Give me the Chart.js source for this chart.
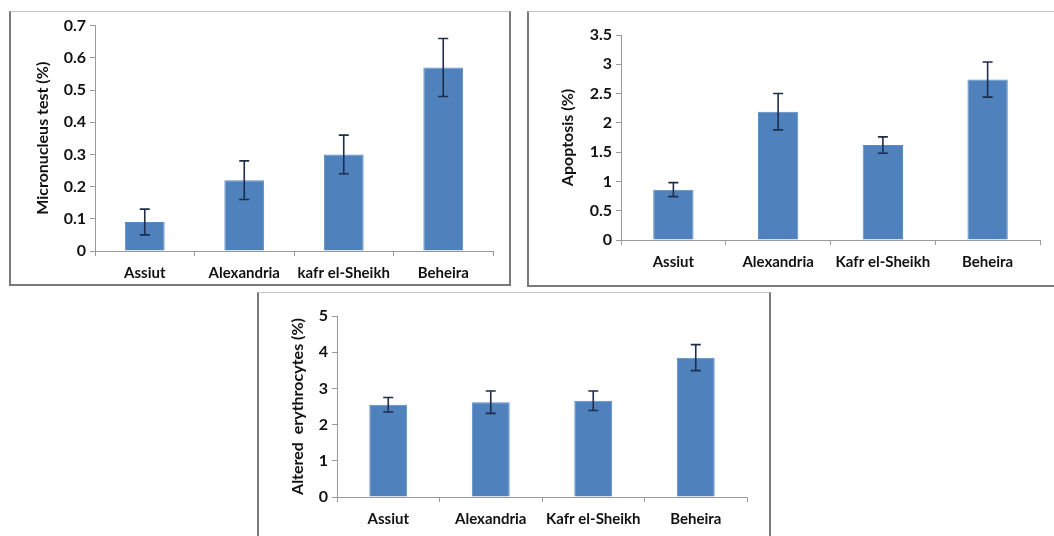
<!DOCTYPE html>
<html>
<head>
<meta charset="utf-8">
<script src="https://cdn.jsdelivr.net/npm/chart.js@4.4.0/dist/chart.umd.min.js"></script>
<style>
    body { margin: 0; background: #fff; width: 1054px; height: 536px; overflow: hidden; position: relative; }
    .box { position: absolute; box-sizing: border-box; border: 2px solid #7a7a7a; border-top: 1px solid #c4c4c4; background: #fff; }
    .box canvas { position: absolute; left: 0; top: 0; }
</style>
</head>
<body>

<div class="box" style="left:9px; top:11px; width:502px; height:275px;">
    <canvas id="chart1" width="498" height="272"></canvas>
</div>
<div class="box" style="left:527px; top:11px; width:540px; height:276px;">
    <canvas id="chart2" width="527" height="273"></canvas>
</div>
<div class="box" style="left:257px; top:292px; width:514px; height:260px;">
    <canvas id="chart3" width="510" height="244"></canvas>
</div>

<script>
    // data (mean and error)
    var micronucleusLabels = ['Assiut', 'Alexandria', 'kafr el-Sheikh', 'Beheira'];
    var micronucleus = [0.09, 0.22, 0.30, 0.57];
    var micronucleusErr = [0.04, 0.06, 0.06, 0.09];

    var apoptosisLabels = ['Assiut', 'Alexandria', 'Kafr el-Sheikh', 'Beheira'];
    var apoptosis = [0.86, 2.19, 1.62, 2.74];
    var apoptosisErr = [0.12, 0.31, 0.14, 0.30];

    var alteredLabels = ['Assiut', 'Alexandria', 'Kafr el-Sheikh', 'Beheira'];
    var altered = [2.55, 2.62, 2.66, 3.85];
    var alteredErr = [0.20, 0.31, 0.27, 0.36];

    var FONT = 'Lato, "Open Sans", sans-serif';

    /*error bars*/
    var errorBars = {
        id: 'errorBars',
        afterDatasetsDraw: function (chart) {
            var ctx = chart.ctx;
            var yScale = chart.scales.y;
            chart.data.datasets.forEach(function (ds, i) {
                var meta = chart.getDatasetMeta(i);
                meta.data.forEach(function (bar, j) {
                    var v = ds.data[j];
                    var e = ds.errors[j];
                    var top = yScale.getPixelForValue(v + e);
                    var bot = yScale.getPixelForValue(v - e);
                    ctx.save();
                    ctx.strokeStyle = '#1e2d4a';
                    ctx.lineWidth = 1.6;
                    ctx.beginPath();
                    ctx.moveTo(bar.x, top);
                    ctx.lineTo(bar.x, bot);
                    ctx.moveTo(bar.x - 5, top);
                    ctx.lineTo(bar.x + 5, top);
                    ctx.moveTo(bar.x - 5, bot);
                    ctx.lineTo(bar.x + 5, bot);
                    ctx.stroke();
                    ctx.restore();
                });
            });
        }
    };

    function makeChart(id, labels, values, errs, opts) {
        var ctx = document.getElementById(id).getContext('2d');
        return new Chart(ctx, {
            type: 'bar',
            data: {
                labels: labels,
                datasets: [{
                    data: values,
                    errors: errs,
                    backgroundColor: '#4f81bd',
                    borderColor: '#5a8ac4',
                    borderWidth: 1,
                    categoryPercentage: 1,
                    barPercentage: opts.barPct
                }]
            },
            options: {
                responsive: false,
                animation: false,
                layout: { padding: { top: opts.padTop, right: opts.padRight, left: 0, bottom: 0 } },
                plugins: { legend: { display: false }, tooltip: { enabled: false } },
                scales: {
                    x: {
                        afterFit: function (s) { s.height = opts.xHeight; },
                        grid: { display: true, offset: true, drawOnChartArea: false, tickLength: 5, color: '#9a9a9a' },
                        border: { color: '#9a9a9a' },
                        ticks: { color: '#111', padding: 8, autoSkip: false, font: { family: FONT, weight: 'bold', size: 15 }, maxRotation: 0 }
                    },
                    y: {
                        min: 0,
                        max: opts.max,
                        afterFit: function (s) { s.width = opts.yWidth; },
                        grid: { display: true, drawOnChartArea: false, tickLength: 5, color: '#9a9a9a' },
                        border: { color: '#9a9a9a' },
                        ticks: {
                            stepSize: opts.step, color: '#111', padding: 4,
                            font: { family: FONT, weight: 'bold', size: 16 },
                            callback: function (v) { return String(Math.round(v * 10) / 10); }
                        },
                        title: {
                            display: true,
                            text: opts.title,
                            color: '#111',
                            padding: { top: opts.titlePad, bottom: 0 },
                            font: { family: FONT, weight: 'bold', size: 16 }
                        }
                    }
                }
            },
            plugins: [errorBars]
        });
    }

    makeChart('chart1', micronucleusLabels, micronucleus, micronucleusErr, {
        max: 0.7, step: 0.1, title: 'Micronucleus test (%)', barPct: 0.4,
        padTop: 13, padRight: 16, xHeight: 33, yWidth: 84, titlePad: 22
    });

    makeChart('chart2', apoptosisLabels, apoptosis, apoptosisErr, {
        max: 3.5, step: 0.5, title: 'Apoptosis (%)', barPct: 0.385,
        padTop: 23, padRight: 16, xHeight: 45, yWidth: 92, titlePad: 29
    });

    makeChart('chart3', alteredLabels, altered, alteredErr, {
        max: 5, step: 1, title: 'Altered  erythrocytes (%)', barPct: 0.37,
        padTop: 23, padRight: 22, xHeight: 40, yWidth: 78, titlePad: 29
    });
</script>
</body>
</html>
